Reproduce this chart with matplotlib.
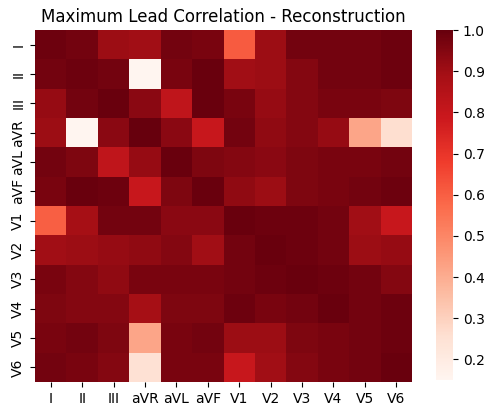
import matplotlib
matplotlib.use("Agg")
import matplotlib.pyplot as plt
import numpy as np
import seaborn as sns

leads = ['I', 'II', 'III', 'aVR', 'aVL', 'aVF', 'V1', 'V2', 'V3', 'V4', 'V5', 'V6']

row_I   = [0.99, 0.98, 0.91, 0.90, 0.98, 0.97, 0.61, 0.91, 0.98, 0.98, 0.98, 0.99]
row_II  = [0.98, 0.99, 0.98, 0.15, 0.97, 0.995, 0.90, 0.91, 0.95, 0.98, 0.98, 0.99]
row_III = [0.92, 0.98, 0.995, 0.94, 0.82, 0.995, 0.97, 0.92, 0.95, 0.97, 0.97, 0.96]
row_aVR = [0.91, 0.15, 0.94, 1.00, 0.94, 0.80, 0.98, 0.93, 0.95, 0.92, 0.42, 0.26]
row_aVL = [0.98, 0.96, 0.82, 0.92, 0.995, 0.96, 0.95, 0.94, 0.96, 0.97, 0.97, 0.98]
row_aVF = [0.97, 0.995, 0.99, 0.80, 0.96, 0.995, 0.93, 0.91, 0.96, 0.97, 0.98, 0.99]
row_V1  = [0.60, 0.89, 0.98, 0.98, 0.94, 0.94, 0.995, 0.99, 0.99, 0.98, 0.90, 0.80]
row_V2  = [0.90, 0.91, 0.92, 0.93, 0.95, 0.90, 0.98, 0.995, 0.99, 0.98, 0.91, 0.92]
row_V3  = [0.97, 0.95, 0.93, 0.97, 0.97, 0.97, 0.98, 0.99, 0.995, 0.99, 0.98, 0.95]
row_V4  = [0.96, 0.95, 0.95, 0.89, 0.96, 0.96, 0.99, 0.97, 0.98, 0.995, 0.98, 0.99]
row_V5  = [0.97, 0.98, 0.96, 0.42, 0.97, 0.98, 0.91, 0.91, 0.96, 0.97, 0.98, 0.99]
row_V6  = [0.98, 0.97, 0.95, 0.25, 0.97, 0.97, 0.80, 0.90, 0.95, 0.97, 0.98, 0.995]

corr = np.array([row_I, row_II, row_III, row_aVR, row_aVL, row_aVF,
                 row_V1, row_V2, row_V3, row_V4, row_V5, row_V6])

fig = plt.figure(figsize=(4.84, 4.05), dpi=100)
ax = fig.add_axes([35 / 484, 1 - 382 / 405, 377 / 484, 352 / 405])
cax = fig.add_axes([436 / 484, 1 - 380 / 405, 17 / 484, 350 / 405])

sns.heatmap(corr, cmap='Reds', xticklabels=leads, yticklabels=leads,
            ax=ax, cbar_ax=cax)
ax.set_title('Maximum Lead Correlation - Reconstruction')
ax.tick_params(axis='y', rotation=90)
cax.tick_params(labelsize=10)

plt.savefig('out.png', dpi=100)
